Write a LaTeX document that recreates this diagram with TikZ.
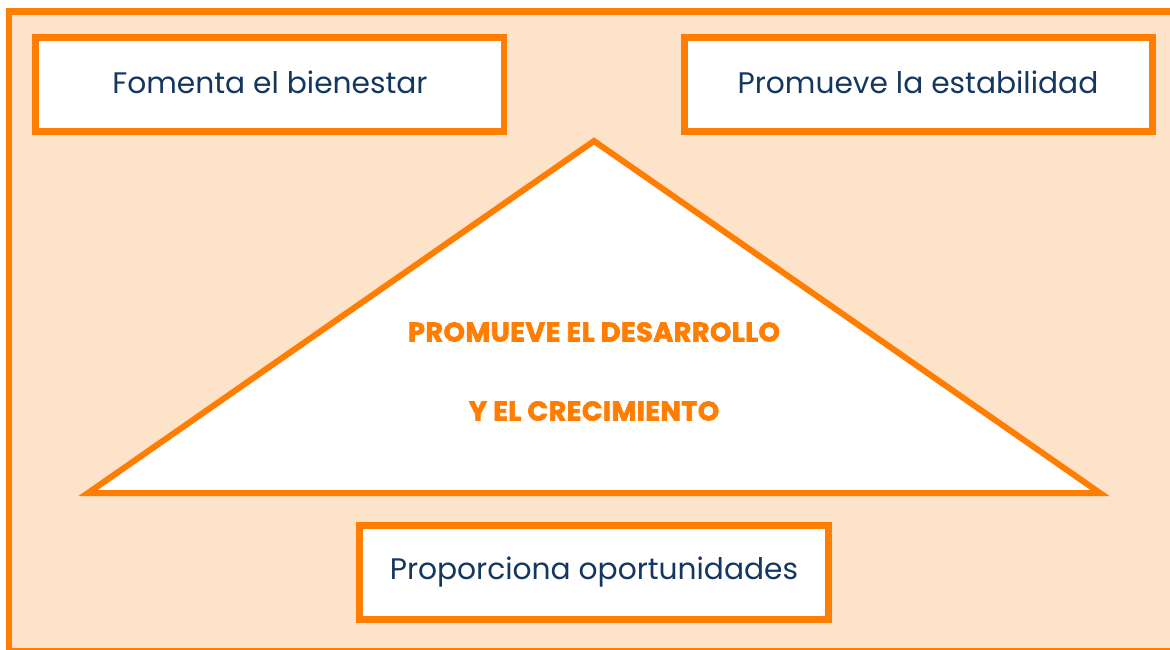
\documentclass[tikz,border=0pt]{standalone}
\usepackage{fontspec}
\setmainfont{Poppins}
\newfontfamily\heavyfont[FakeBold=2.5,LetterSpace=2]{Poppins Bold}
\definecolor{frameorange}{RGB}{255,125,0}
\definecolor{peach}{RGB}{253,227,201}
\definecolor{navy}{RGB}{20,55,95}
\tikzset{
  ibox/.style={draw=frameorange, line width=6.5pt, fill=white},
  itext/.style={text=navy, font=\fontsize{29.7}{34}\selectfont, inner sep=0pt, anchor=center},
  htext/.style={text=frameorange, font=\heavyfont\fontsize{27}{32}\selectfont, inner sep=0pt, anchor=center}
}
\begin{document}
\begin{tikzpicture}[x=1pt,y=-1pt]
\useasboundingbox (0,0) rectangle (1170,649);
\clip (0,0) rectangle (1170,649);
\fill[white] (0,0) rectangle (1170,649);
\draw[draw=frameorange, line width=6.5pt, fill=peach] (9,11.5) rectangle (1185,651.5);
% boxes
\draw[ibox] (35.5,37.5) rectangle (504,131.5);
\draw[ibox] (684.5,37.5) rectangle (1152.5,131.5);
\draw[ibox] (359.5,525.5) rectangle (828.5,619.5);
\node[itext] (t1) at (270,82.5) {Fomenta el bienestar};
\node[itext] (t2) at (918,82.5) {Promueve la estabilidad};
\node[itext] (t3) at (594,572) {Proporciona oportunidades};
% triangle
\draw[draw=frameorange, line width=6pt, fill=white, line join=miter] (594,141) -- (88,493) -- (1100,493) -- cycle;
\node[htext] (h1) at (594,332) {PROMUEVE EL DESARROLLO};
\node[htext] (h2) at (594,411) {Y EL CRECIMIENTO};
\end{tikzpicture}
\end{document}
